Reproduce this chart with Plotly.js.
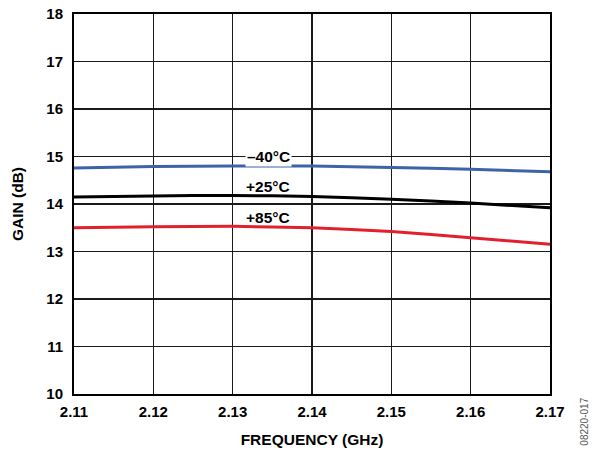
<!DOCTYPE html>
<html>
<head>
<meta charset="utf-8">
<script src="https://cdn.plot.ly/plotly-3.0.1.min.js"></script>
<style>html,body{margin:0;padding:0;background:#fff;}#plot{width:592px;height:450px;}</style>
</head>
<body>
<div id="plot"></div>
<script>
const freq = [2.11, 2.12, 2.13, 2.14, 2.15, 2.16, 2.17];
const gainM40 = [14.76, 14.79, 14.80, 14.80, 14.77, 14.73, 14.68];
const gainP25 = [14.15, 14.17, 14.18, 14.16, 14.10, 14.02, 13.92];
const gainP85 = [13.50, 13.52, 13.53, 13.50, 13.42, 13.29, 13.15];
const seriesNames = ['–40°C', '+25°C', '+85°C'];
const labelY = [15.0, 14.36, 13.71];
const labelX = 2.1345;
const xTicks = [2.11, 2.12, 2.13, 2.14, 2.15, 2.16, 2.17];
const yTicks = [10, 11, 12, 13, 14, 15, 16, 17, 18];

const font = 'Liberation Sans, Arial, sans-serif';
const colors = ['#3D64A6', '#000000', '#E1202E'];
const series = [gainM40, gainP25, gainP85];

const traces = series.map((g, i) => ({
  x: freq, y: g, type: 'scatter', mode: 'lines', name: seriesNames[i],
  line: {color: colors[i], width: 3, shape: 'spline', smoothing: 0.6}
}));

const annotations = seriesNames.map((n, i) => ({
  x: labelX, y: labelY[i], xref: 'x', yref: 'y', text: '<b>' + n + '</b>',
  showarrow: false, font: {family: font, size: 15.5, color: '#000'},
  bgcolor: i === 0 ? '#fff' : 'rgba(0,0,0,0)', borderpad: 1
}));
annotations.push({
  xref: 'paper', yref: 'paper', x: 1.072, y: -0.072, text: '08220-017',
  textangle: -90, showarrow: false, font: {family: font, size: 10, color: '#555'},
  xanchor: 'center', yanchor: 'middle'
});

const layout = {
  width: 592, height: 450,
  margin: {l: 74, r: 42, t: 14, b: 56},
  paper_bgcolor: '#fff', plot_bgcolor: '#fff',
  showlegend: false,
  font: {family: font, size: 15, color: '#000'},
  xaxis: {
    range: [2.11, 2.17], tickvals: xTicks, ticktext: xTicks.map(v => '<b>' + v.toFixed(2) + '</b>'),
    showgrid: true, gridcolor: '#1a1a1a', gridwidth: 1.5,
    showline: true, linecolor: '#000', linewidth: 2, mirror: true,
    ticks: '', ticklabelstandoff: 3, zeroline: false,
    tickfont: {family: font, size: 15, color: '#000'},
    title: {text: '<b>FREQUENCY (GHz)</b>', font: {family: font, size: 15.5, color: '#000'}, standoff: 15}
  },
  yaxis: {
    range: [10, 18], tickvals: yTicks, ticktext: yTicks.map(v => '<b>' + v + '</b>'),
    showgrid: true, gridcolor: '#1a1a1a', gridwidth: 1.5,
    showline: true, linecolor: '#000', linewidth: 2, mirror: true,
    ticks: '', ticklabelstandoff: 6, zeroline: false,
    tickfont: {family: font, size: 15, color: '#000'},
    title: {text: '<b>GAIN (dB)</b>', font: {family: font, size: 15.5, color: '#000'}, standoff: 19}
  },
  annotations: annotations
};

Plotly.newPlot('plot', traces, layout, {displayModeBar: false, staticPlot: true});
</script>
</body>
</html>
